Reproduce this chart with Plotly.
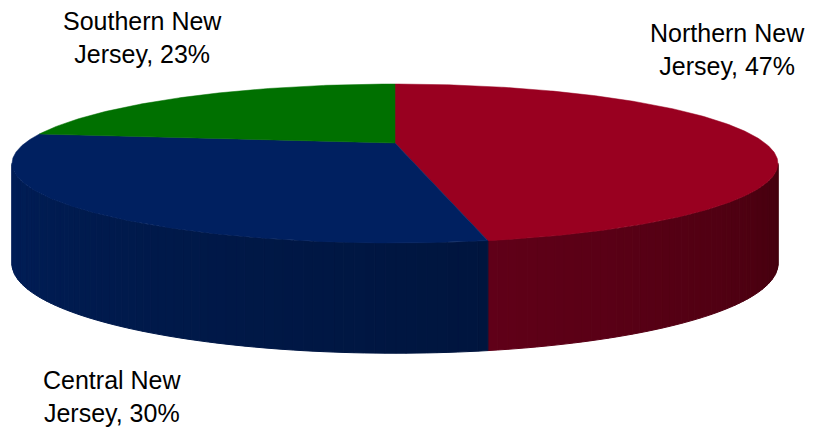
import math
import plotly.graph_objects as go

# ---- data ----
regions = ["Northern New Jersey", "Central New Jersey", "Southern New Jersey"]
shares = [47, 30, 23]
label_text = ["Northern New<br>Jersey, 47%", "Central New<br>Jersey, 30%", "Southern New<br>Jersey, 23%"]

# ---- styles ----
top_colors = ["#990020", "#002060", "#007000"]
wall_left_colors = [(0x60, 0x00, 0x18), (0x00, 0x1e, 0x58), (0x00, 0x48, 0x00)]
wall_right_colors = [(0x44, 0x00, 0x0e), (0x00, 0x15, 0x3e), (0x00, 0x30, 0x00)]
label_pos = [(727, 49), (112, 396), (142, 37)]

W, H = 814, 428
CX, CY, A, B, K = 395, 143, 370, 74.2, 0.258
DEPTH, K2 = 97, 0.12


def project(theta, bottom=False):
    t = math.radians(theta)
    u, v = math.sin(t), -math.cos(t)
    s = 1.0 / (1 - K * v)
    x = CX + A * u * s
    y = CY + B * v * s
    if bottom:
        y += DEPTH / (1 - K2 * v)
    return x, y


def arc(a, b, bottom=False, step=0.5):
    n = max(2, int(math.ceil((b - a) / step)) + 1)
    return [project(a + (b - a) * i / (n - 1), bottom) for i in range(n)]


def lerp(c1, c2, f):
    return "rgb(%d,%d,%d)" % tuple(round(c1[i] + (c2[i] - c1[i]) * f) for i in range(3))


total = float(sum(shares))
bounds = []
start = 0.0
for s in shares:
    end = start + 360.0 * s / total
    bounds.append((start, end))
    start = end

fig = go.Figure()

vis_lo = math.degrees(math.acos(-K))
vis_hi = 360 - vis_lo

# side walls with horizontal gradient
for idx, (a0, b0) in enumerate(bounds):
    a, b = max(a0, vis_lo), min(b0, vis_hi)
    if a >= b:
        continue
    nstrip = int(math.ceil((b - a) / 1.2))
    for i in range(nstrip):
        t0 = a + (b - a) * i / nstrip
        t1 = a + (b - a) * (i + 1) / nstrip
        f = ((t0 + t1) / 2 - a) / (b - a)
        col = lerp(wall_right_colors[idx], wall_left_colors[idx], f)
        top = arc(t0, t1, step=0.4)
        bot = arc(t0, t1, bottom=True, step=0.4)[::-1]
        pts = top + bot + [top[0]]
        fig.add_trace(go.Scatter(
            x=[p[0] for p in pts], y=[p[1] for p in pts],
            mode="lines", fill="toself", fillcolor=col,
            line=dict(color=col, width=1), hoverinfo="skip", showlegend=False))

# top faces
for idx, (a0, b0) in enumerate(bounds):
    pts = [(CX, CY)] + arc(a0, b0) + [(CX, CY)]
    fig.add_trace(go.Scatter(
        x=[p[0] for p in pts], y=[p[1] for p in pts],
        mode="lines", fill="toself", fillcolor=top_colors[idx],
        line=dict(color=top_colors[idx], width=0.5),
        name=regions[idx], hoverinfo="name", showlegend=False))

for idx, txt in enumerate(label_text):
    fig.add_annotation(x=label_pos[idx][0], y=label_pos[idx][1], text=txt,
                       showarrow=False, xanchor="center", yanchor="middle",
                       align="center",
                       font=dict(family="Liberation Sans, Arial, sans-serif", size=25, color="#000000"))

fig.update_layout(
    width=W, height=H, margin=dict(l=0, r=0, t=0, b=0),
    paper_bgcolor="white", plot_bgcolor="white",
    xaxis=dict(range=[0, W], visible=False, fixedrange=True),
    yaxis=dict(range=[H, 0], visible=False, fixedrange=True),
)

fig.write_html("out.html", config={"displayModeBar": False},
               post_script="document.body.style.margin='0';document.body.style.overflow='hidden';")
